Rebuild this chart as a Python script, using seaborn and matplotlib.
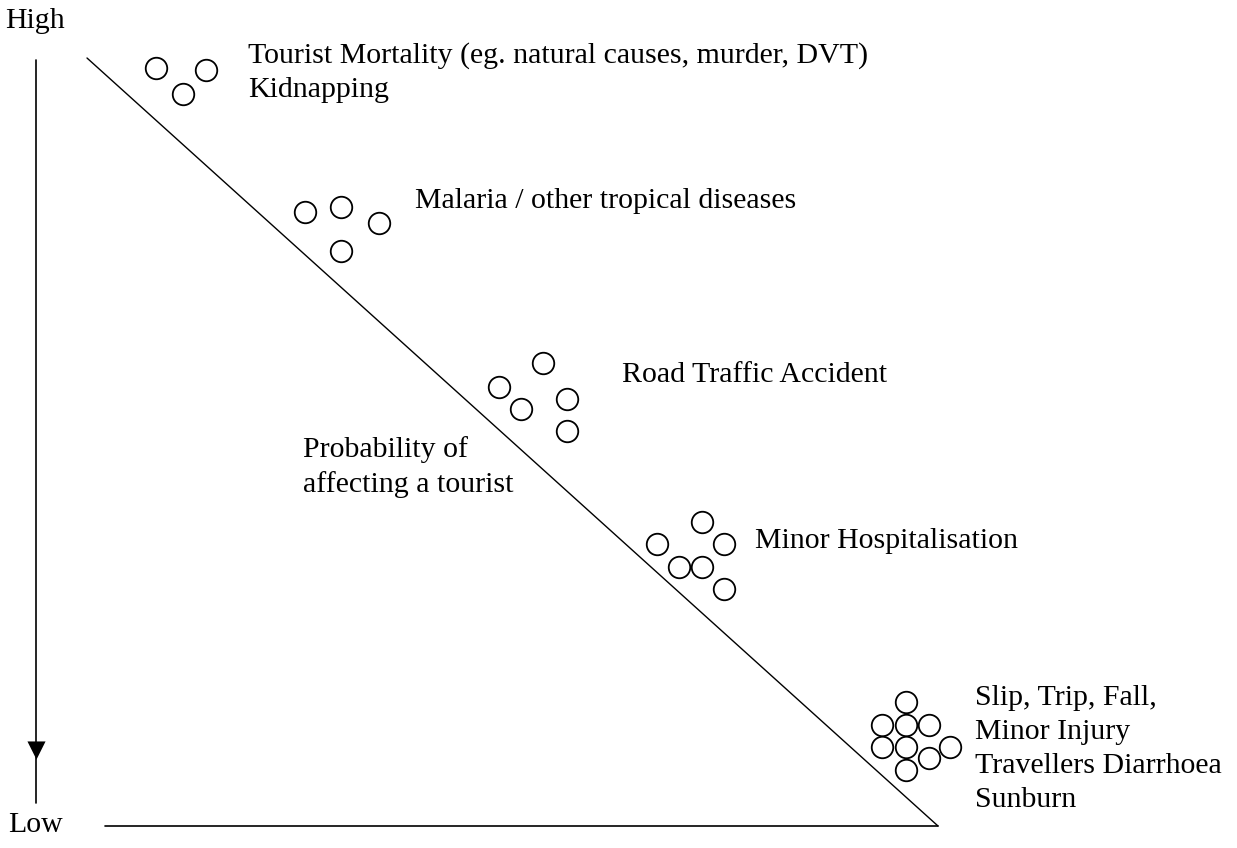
import matplotlib
matplotlib.use("Agg")
import matplotlib.pyplot as plt
import pandas as pd
import seaborn as sns

# Risk clusters (positions, image pixel coords)
mortality_x = [156, 206, 183]
mortality_y = [68, 70, 94]
malaria_x = [305, 341, 379, 341]
malaria_y = [212, 207, 223, 251]
road_x = [543, 499, 521, 567, 567]
road_y = [363, 387, 409, 399, 431]
hosp_x = [702, 657, 724, 679, 702, 724]
hosp_y = [522, 544, 544, 567, 567, 589]
slip_x = [906, 882, 906, 929, 882, 906, 950, 929, 906]
slip_y = [702, 725, 725, 725, 747, 747, 747, 758, 770]

# Label texts and last-line baselines
labels = [
    "Tourist Mortality (eg. natural causes, murder, DVT)\nKidnapping",
    "Malaria / other tropical diseases",
    "Road Traffic Accident",
    "Probability of\naffecting a tourist",
    "Minor Hospitalisation",
    "Slip, Trip, Fall,\nMinor Injury\nTravellers Diarrhoea\nSunburn",
    "High",
    "Low",
]
label_x = [248, 415, 622, 303, 755, 975, 5, 8]
label_y = [97, 208, 382, 492, 548, 807, 28, 832]

# Frame lines
diag_x = [87, 938]
diag_y = [58, 826]
base_x = [105, 938]
base_y = [826, 826]
axis_x = [36, 36]
axis_y = [60, 803]

sns.set_theme(style="white")
plt.rcParams["font.family"] = ["Liberation Serif", "DejaVu Serif"]

fig = plt.figure(figsize=(12.37, 8.48), dpi=100)
ax = fig.add_axes([0, 0, 1, 1])

pts = pd.DataFrame({
    "x": mortality_x + malaria_x + road_x + hosp_x + slip_x,
    "y": mortality_y + malaria_y + road_y + hosp_y + slip_y,
})

for lx, ly, w in [(diag_x, diag_y, 1.0), (base_x, base_y, 1.2), (axis_x, axis_y, 1.2)]:
    sns.lineplot(x=lx, y=ly, color="black", lw=w, ax=ax, sort=False,
                 estimator=None, errorbar=None)
# arrow head on the vertical axis
sns.scatterplot(x=[36], y=[750], marker="v", s=170, color="black", ax=ax, linewidth=0)

sns.scatterplot(data=pts, x="x", y="y", s=240, facecolor="white",
                edgecolor="black", linewidth=1.3, ax=ax, zorder=3)

fs = 21.5
for t, x, y in zip(labels, label_x, label_y):
    ax.text(x, y, t, fontsize=fs, va="baseline", ha="left",
            linespacing=1.4, color="black")

ax.set_xlim(0, 1237)
ax.set_ylim(848, 0)
ax.axis("off")

fig.savefig("out.png", dpi=100, facecolor="white")
